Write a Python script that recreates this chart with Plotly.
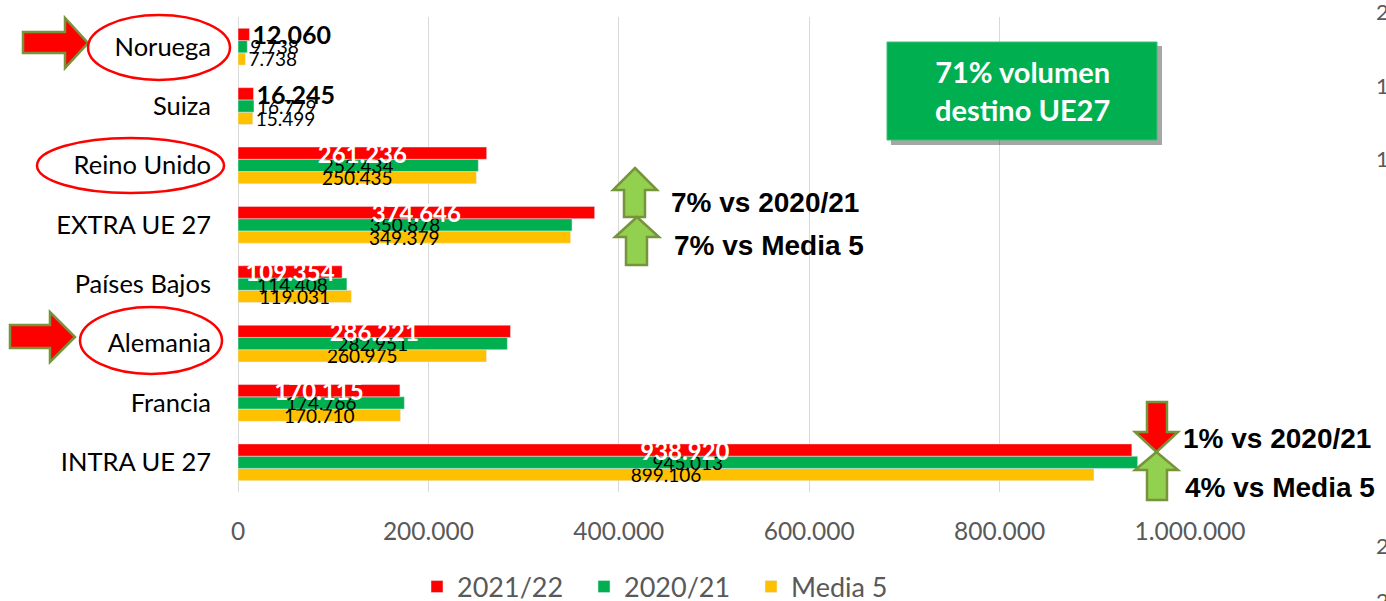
import plotly.graph_objects as go

categories = ["Noruega", "Suiza", "Reino Unido", "EXTRA UE 27", "Países Bajos",
              "Alemania", "Francia", "INTRA UE 27"]
v_2122 = [12060, 16245, 261236, 374646, 109354, 286221, 170115, 938920]
v_2021 = [9738, 16779, 252434, 350878, 114408, 282951, 174766, 945013]
v_media5 = [7738, 15499, 250435, 349379, 119031, 260975, 170710, 899106]
series_names = ["2021/22", "2020/21", "Media 5"]
x_ticks = [0, 200000, 400000, 600000, 800000, 1000000]

W, H = 1386, 601
L, R, T, B = 238, 1190, 17, 492  # plot area in pixels

def px(x):
    return (x - L) / (R - L)

def py(y):
    return (B - y) / (B - T)

CAL = "Lato, 'Open Sans', sans-serif"
ARI = "'Liberation Sans', Arial, sans-serif"

positions = ["outside", "outside"] + ["inside"] * 6

fig = go.Figure()
# drawn bottom-to-top so that the 2021/22 labels sit above the other bars
for vals, nm, col in [(v_media5, series_names[2], "#FFC000"), (v_2021, series_names[1], "#00B050")]:
    fig.add_trace(go.Bar(
        y=categories, x=vals, name=nm, orientation="h",
        marker_color=col, texttemplate="%{x:,}", textposition=positions,
        insidetextanchor="middle", textangle=0, cliponaxis=False, constraintext="none",
        insidetextfont=dict(family=CAL, size=19, color="black"),
        outsidetextfont=dict(family=CAL, size=19, color="black"),
    ))
fig.add_trace(go.Bar(
    y=categories, x=v_2122, name=series_names[0], orientation="h",
    marker_color="#FF0000", texttemplate="%{x:,}", textposition=positions,
    insidetextanchor="middle", textangle=0, cliponaxis=False, constraintext="none",
    insidetextfont=dict(family=CAL, size=24, color="white", weight=700),
    outsidetextfont=dict(family=CAL, size=25, color="black", weight=700),
))

shapes = []
annotations = []

def poly(points, fill, line="#77933C", width=2.5):
    d = "M " + " L ".join(f"{px(a):.5f},{py(b):.5f}" for a, b in points) + " Z"
    shapes.append(dict(type="path", xref="paper", yref="paper", path=d,
                       fillcolor=fill, line=dict(color=line, width=width), layer="above"))

# red right arrows
for (x0, x1, xt, y0, ys0, ys1, y1) in [(23, 65, 88, 18, 32, 53, 68), (10, 50, 75, 312, 325, 348, 362)]:
    yc = (y0 + y1) / 2
    poly([(x0, ys0), (x1, ys0), (x1, y0), (xt, yc), (x1, y1), (x1, ys1), (x0, ys1)], "#FF0000")

# ellipses
for (x0, x1, y0, y1) in [(88, 230, 15, 80), (37, 224, 138, 193), (80, 222, 307, 374)]:
    shapes.append(dict(type="circle", xref="paper", yref="paper",
                       x0=px(x0), x1=px(x1), y0=py(y1), y1=py(y0),
                       line=dict(color="#FF0000", width=2.5), layer="above"))

def up_arrow(hx0, hx1, sx0, sx1, top, hb, bottom, fill="#92D050"):
    xc = (hx0 + hx1) / 2
    poly([(xc, top), (hx1, hb), (sx1, hb), (sx1, bottom), (sx0, bottom), (sx0, hb), (hx0, hb)], fill)

def down_arrow(hx0, hx1, sx0, sx1, top, hb, tip, fill="#FF0000"):
    xc = (hx0 + hx1) / 2
    poly([(sx0, top), (sx1, top), (sx1, hb), (hx1, hb), (xc, tip), (hx0, hb), (sx0, hb)], fill)

up_arrow(613, 657, 624, 645, 168, 190, 217)
up_arrow(615, 659, 626, 647, 217, 237, 265)
down_arrow(1135, 1178, 1147, 1167, 402, 432, 452)
up_arrow(1135, 1178, 1147, 1167, 452, 470, 500)

for txt, x, y in [("7% vs 2020/21", 669, 202), ("7% vs Media 5", 672, 246),
                  ("1% vs 2020/21", 1181, 438), ("4% vs Media 5", 1183, 487)]:
    annotations.append(dict(text=txt, x=px(x), y=py(y), xref="paper", yref="paper",
                            xanchor="left", yanchor="middle", showarrow=False,
                            font=dict(family=ARI, size=28, color="black", weight=700)))

# green box with shadow
shapes.append(dict(type="rect", xref="paper", yref="paper", x0=px(891), x1=px(1162),
                   y0=py(145), y1=py(46), fillcolor="rgba(0,0,0,0.35)",
                   line=dict(width=0), layer="above"))
shapes.append(dict(type="rect", xref="paper", yref="paper", x0=px(887), x1=px(1157),
                   y0=py(140), y1=py(42), fillcolor="#00B050",
                   line=dict(color="#3CC070", width=1), layer="above"))
annotations.append(dict(text="71% volumen<br>destino UE27", x=px(1022), y=py(91),
                        xref="paper", yref="paper", xanchor="center", yanchor="middle",
                        showarrow=False,
                        font=dict(family=CAL, size=29, color="white", weight=700)))

# cut-off characters at right edge
for ch, y in [("2", 12), ("1", 85), ("1", 158), ("2", 545), ("2", 600)]:
    annotations.append(dict(text=ch, x=px(1374), y=py(y), xref="paper", yref="paper",
                            xanchor="left", yanchor="middle", showarrow=False,
                            font=dict(family=CAL, size=22, color="#595959")))

fig.update_layout(
    width=W, height=H,
    margin=dict(l=L, r=W - R, t=T, b=H - B, autoexpand=False),
    paper_bgcolor="white", plot_bgcolor="white",
    barmode="group", bargap=0.38, bargroupgap=0,
    separators=",.",
    showlegend=True,
    legend=dict(orientation="h", x=px(417), y=py(587), xanchor="left", yanchor="middle",
                font=dict(family=CAL, size=27, color="#595959"), itemwidth=30,
                entrywidth=122, entrywidthmode="pixels",
                traceorder="reversed"),
    shapes=shapes, annotations=annotations,
)
fig.update_xaxes(range=[0, 1000000], tickvals=x_ticks, tickformat=",",
                 showgrid=True, gridcolor="#D9D9D9", gridwidth=1,
                 zeroline=True, zerolinecolor="#D9D9D9", zerolinewidth=1,
                 showline=False, ticks="", ticklabelstandoff=22,
                 tickfont=dict(family=CAL, size=24.5, color="#595959"))
fig.update_yaxes(categoryorder="array", categoryarray=categories[::-1],
                 showgrid=False, showline=False, ticks="", ticklabelstandoff=26,
                 tickfont=dict(family=CAL, size=25.5, color="black"))

fig.write_html("out.html", config={"displayModeBar": False},
               post_script="document.body.style.margin='0';document.body.style.overflow='hidden';")
